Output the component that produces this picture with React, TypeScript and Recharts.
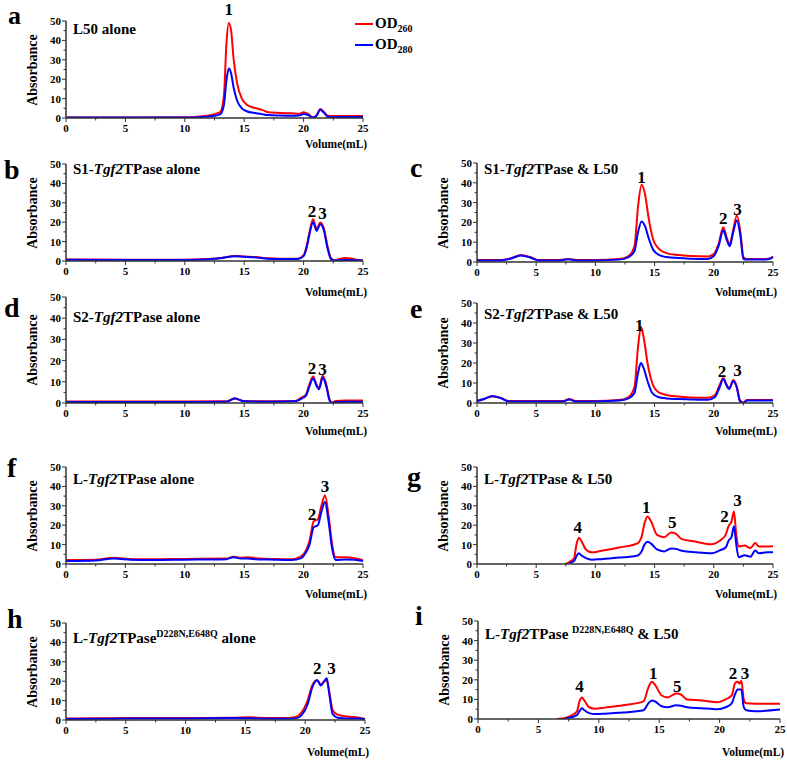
import React from "react";
import { LineChart, Line, XAxis, YAxis, ReferenceDot } from "recharts";

const SERIF = '"Liberation Serif", "Times New Roman", serif';
const RED = "#ff0000";
const BLUE = "#0000ff";
const AXIS = "#333";

const xTicks = [0, 2.5, 5, 7.5, 10, 12.5, 15, 17.5, 20, 22.5, 25];
const yTicks = [0, 5, 10, 15, 20, 25, 30, 35, 40, 45, 50];

// a: L50 alone
const volA = [0, 5, 10, 11, 12, 12.5, 13, 13.3, 13.5, 13.7, 13.9, 14.1, 14.4, 14.8, 15.2, 16, 16.5, 17, 18, 19, 19.6, 20, 20.4, 20.8, 21.1, 21.4, 21.7, 22, 22.5, 25];
const a260 = [0.3, 0.3, 0.4, 0.7, 1.3, 2, 3.2, 12, 38, 49, 45, 31, 18, 10, 7, 5, 4.2, 3, 2.6, 2.4, 2.2, 2.9, 2, 0.3, 1.5, 4.6, 3.2, 1.3, 1, 1];
const a280 = [0.2, 0.2, 0.2, 0.4, 0.8, 1.2, 2, 7, 19, 25.5, 23, 16, 9, 5, 3.5, 2.5, 2, 1.5, 1.3, 1.2, 1.3, 2, 1.4, 0.2, 1.3, 4.2, 2.8, 0.8, 0.5, 0.5];
const peaksA = [{ label: "1", vol: 13.7, abs: 56 }];

// b: S1-Tgf2TPase alone
const volB = [0, 5, 10, 12, 13, 14.2, 15, 16, 17, 18, 19.5, 20, 20.3, 20.5, 20.8, 21.1, 21.4, 21.7, 22, 22.3, 22.6, 23, 23.5, 24, 24.5, 25];
const b260 = [0.8, 0.6, 0.6, 1, 1.5, 2.6, 2.3, 2, 1.4, 1.2, 1.2, 3, 9, 15, 21.5, 16.5, 19.8, 17, 8, 1.5, 0.4, 1, 1.5, 1.3, 0.6, 0.3];
const b280 = [0.6, 0.5, 0.5, 0.9, 1.4, 2.5, 2.2, 1.8, 1.2, 1, 1, 2.5, 8, 14, 20, 15.5, 19, 16, 7, 1, 0.2, 0.4, 0.5, 0.5, 0.4, 0.2];
const peaksB = [{ label: "2", vol: 20.7, abs: 26 }, { label: "3", vol: 21.6, abs: 25 }];

// c: S1-Tgf2TPase & L50
const volC = [0, 2, 2.8, 3.7, 4.5, 5.2, 7, 7.7, 8.4, 10, 12, 12.8, 13.3, 13.6, 13.9, 14.2, 14.5, 14.9, 15.4, 16, 17, 18, 19.5, 20, 20.4, 20.8, 21.1, 21.35, 21.6, 21.95, 22.25, 22.5, 22.8, 24, 24.7, 25];
const c260 = [1, 1, 1.8, 3.5, 2.5, 1, 1, 1.5, 1, 1, 1.5, 3, 8, 28, 39, 34, 22, 11, 6.5, 4.5, 3.5, 3, 2.8, 4, 9, 17.5, 12, 9, 15, 23.5, 15, 2.5, 1.5, 1.5, 1.8, 2.8];
const c280 = [0.8, 0.8, 1.6, 3.3, 2.3, 0.8, 0.8, 1.4, 0.8, 0.8, 1.2, 2.5, 5.5, 15, 20.5, 18, 12, 6, 3.5, 2.5, 2, 1.7, 1.5, 3, 8, 16, 11, 8, 14, 21, 13, 1.5, 1.2, 1.2, 1.5, 2.5];
const peaksC = [{ label: "1", vol: 13.9, abs: 43 }, { label: "2", vol: 20.8, abs: 22 }, { label: "3", vol: 22.0, abs: 27 }];

// d: S2-Tgf2TPase alone
const volD = [0, 5, 10, 13.5, 14.2, 15, 17, 19.3, 19.8, 20.2, 20.5, 20.8, 21.1, 21.3, 21.6, 21.9, 22.2, 22.4, 22.7, 23.5, 25];
const d260 = [0.7, 0.7, 0.7, 0.8, 2, 0.9, 0.8, 1, 2.5, 4, 9, 12.5, 8.5, 7, 12.8, 9, 1.5, 0.2, 1, 1.2, 1.2];
const d280 = [0.5, 0.5, 0.5, 0.6, 2.2, 0.8, 0.6, 0.8, 2, 3.5, 8, 11.5, 8, 6.5, 12, 8, 1, 0, 0.5, 0.6, 0.6];
const peaksD = [{ label: "2", vol: 20.7, abs: 16.5 }, { label: "3", vol: 21.6, abs: 16 }];

// e: S2-Tgf2TPase & L50
const volE = [0, 0.6, 1.3, 2, 2.7, 5, 7.3, 7.8, 8.3, 10, 12, 12.8, 13.3, 13.6, 13.85, 14.1, 14.4, 14.8, 15.3, 16, 17, 18, 19.5, 20.1, 20.5, 20.8, 21.1, 21.3, 21.65, 21.95, 22.2, 22.5, 22.8, 25];
const e260 = [1, 2, 3.3, 2.5, 1, 1, 1, 2, 1, 1, 1.5, 3, 8, 28, 38, 32, 20, 10, 5.5, 4, 3.2, 2.8, 2.6, 4, 9, 12.5, 9, 7.5, 11.5, 8, 1.5, 0.3, 1.5, 1.5];
const e280 = [1, 2, 3.5, 2.5, 0.8, 0.8, 0.8, 1.8, 0.8, 0.8, 1.2, 2.3, 5, 15, 20, 17, 11, 5, 3, 2.3, 2, 1.8, 1.6, 3, 8, 12, 8.5, 7, 11, 7.5, 1, 0, 1.2, 1.2];
const peaksE = [{ label: "1", vol: 13.7, abs: 39 }, { label: "2", vol: 20.7, abs: 16 }, { label: "3", vol: 22.0, abs: 16.5 }];

// f: L-Tgf2TPase alone
const volF = [0, 2.5, 4, 5.5, 7, 10, 13.5, 14.1, 14.7, 15.3, 16, 17.5, 19, 19.8, 20.2, 20.5, 20.85, 21.2, 21.5, 21.8, 22.1, 22.4, 22.7, 23.5, 24.3, 25];
const f260 = [2, 2.2, 3.2, 2.5, 2.4, 2.6, 2.8, 3.8, 3.2, 3.5, 3, 2.6, 2.5, 4, 7, 12, 22, 23, 30, 35.5, 25, 10, 3.5, 3.5, 3, 2];
const f280 = [1.5, 1.8, 2.8, 2.2, 2, 2.2, 2.5, 3.5, 2.8, 2.8, 2.5, 2.2, 2, 3, 6, 10, 19, 20, 27, 32, 22, 8, 2, 2.3, 2.2, 1.5];
const peaksF = [{ label: "2", vol: 20.7, abs: 26 }, { label: "3", vol: 21.8, abs: 40 }];

// g: L-Tgf2TPase & L50
const volG = [7.4, 7.8, 8.2, 8.4, 8.6, 8.8, 9.2, 9.7, 10.5, 12, 13.5, 13.9, 14.15, 14.4, 14.7, 15.2, 15.8, 16.4, 16.8, 17.3, 18.5, 19.8, 20.5, 21, 21.25, 21.5, 21.7, 21.9, 22.1, 22.6, 23.1, 23.5, 23.8, 24.5, 25];
const g260 = [0, 1, 3, 10, 13.5, 12, 7.5, 6, 6.8, 8.5, 10.5, 14, 21, 24.5, 22, 15, 13.8, 16.2, 15.5, 12.8, 11.5, 10.2, 12, 15, 19.5, 22, 27, 15, 9, 9.5, 8.2, 10.8, 9, 9, 9.2];
const g280 = [null, 0.5, 1.5, 4, 5.5, 4.5, 3, 2.2, 2.5, 3.3, 4.3, 6.5, 10, 11.5, 10.5, 7.5, 6.5, 8, 7.8, 6.8, 6, 5.5, 7, 8.5, 12, 14, 19.5, 10, 3.5, 4.5, 3.8, 7, 5.5, 6, 6];
const peaksG = [{ label: "4", vol: 8.5, abs: 19 }, { label: "1", vol: 14.3, abs: 29.4 }, { label: "5", vol: 16.5, abs: 21.6 }, { label: "2", vol: 20.9, abs: 24.7 }, { label: "3", vol: 22.0, abs: 33 }];

// h: L-Tgf2TPase D228N,E648Q alone
const volH = [0, 3, 5, 10, 14, 15.3, 17, 18.5, 19.2, 19.7, 20.2, 20.6, 21, 21.3, 21.6, 21.8, 22, 22.3, 22.7, 23.5, 24.5, 25];
const h260 = [0.8, 0.9, 1, 1, 1.1, 1.4, 1, 1, 1.5, 4, 10, 18, 20.5, 18.5, 20, 20.5, 15, 5, 2.8, 1.8, 1.2, 0.5];
const h280 = [0.5, 0.6, 0.8, 0.8, 1, 0.9, 0.7, 0.6, 0.8, 2.5, 8, 17, 20.5, 17.8, 20, 21.5, 14, 3, 1.2, 0.8, 0.8, 0.4];
const peaksH = [{ label: "2", vol: 21.0, abs: 27 }, { label: "3", vol: 22.2, abs: 27 }];

// i: L-Tgf2TPase D228N,E648Q & L50
const volI = [6.5, 7.3, 7.8, 8.2, 8.4, 8.6, 8.8, 9.2, 9.7, 10.5, 12, 13.7, 14.1, 14.4, 14.7, 15.2, 15.7, 16.4, 16.8, 17.3, 18.5, 19.8, 20.5, 21, 21.3, 21.5, 21.65, 21.8, 22, 22.2, 23, 25];
const i260 = [0, 0.7, 2, 4, 9, 11, 9.5, 6, 5.2, 5.8, 7, 9, 16, 19, 17, 12, 11, 13, 12.5, 10, 9.5, 8.5, 10, 12, 18.5, 19, 18, 19.5, 10, 8, 7.8, 7.8];
const i280 = [null, 0.4, 1, 2, 4, 5.5, 4.5, 3, 2.5, 2.7, 3.3, 4.5, 8, 9.5, 8.8, 6.5, 6, 7, 6.8, 6, 5.5, 5, 6, 8, 13, 15, 15, 15, 6, 4.5, 4, 4.8];
const peaksI = [{ label: "4", vol: 8.4, abs: 17 }, { label: "1", vol: 14.5, abs: 23.7 }, { label: "5", vol: 16.5, abs: 17 }, { label: "2", vol: 21.1, abs: 23.7 }, { label: "3", vol: 22.1, abs: 23.7 }];

const rows = (vol: number[], r: (number | null)[], b: (number | null)[]) =>
  vol.map((v, i) => ({ v, r: r[i], b: b[i] }));

const ML = 40;
const MT = 22;
const MR = 15;
const MB = 25;

function XTick({ x, y, payload }: any) {
  const major = payload.value % 5 === 0;
  return (
    <g>
      <line x1={x} y1={y} x2={x} y2={y + (major ? 4 : 2.5)} stroke={AXIS} strokeWidth={1} />
      {major && (
        <text x={x} y={y + 14} textAnchor="middle" fontFamily={SERIF} fontWeight="bold" fontSize={11} fill="#000">
          {payload.value}
        </text>
      )}
    </g>
  );
}

function YTick({ x, y, payload }: any) {
  const major = payload.value % 10 === 0;
  return (
    <g>
      <line x1={x} y1={y} x2={x - (major ? 4 : 2.5)} y2={y} stroke={AXIS} strokeWidth={1} />
      {major && (
        <text x={x - 5} y={y + 4} textAnchor="end" fontFamily={SERIF} fontWeight="bold" fontSize={11} fill="#000">
          {payload.value}
        </text>
      )}
    </g>
  );
}

interface Peak {
  label: string;
  vol: number;
  abs: number;
}

function Panel({ box, data, peaks }: { box: number[]; data: any[]; peaks: Peak[] }) {
  const [px, py, pw, ph] = box;
  return (
    <div style={{ position: "absolute", left: px - ML, top: py - MT }}>
      <LineChart width={pw + ML + MR} height={ph + MT + MB} data={data} margin={{ top: MT, right: MR, left: 0, bottom: 0 }}>
        <XAxis
          dataKey="v"
          type="number"
          domain={[0, 25]}
          ticks={xTicks}
          interval={0}
          height={MB}
          tickSize={0}
          tickMargin={0}
          tickLine={false}
          axisLine={{ stroke: AXIS, strokeWidth: 1.5 }}
          tick={<XTick />}
        />
        <YAxis
          type="number"
          domain={[0, 50]}
          ticks={yTicks}
          interval={0}
          width={ML}
          tickSize={0}
          tickMargin={0}
          tickLine={false}
          axisLine={{ stroke: AXIS, strokeWidth: 1.5 }}
          tick={<YTick />}
          allowDataOverflow
        />
        <Line dataKey="r" type="monotone" stroke={RED} strokeWidth={2} dot={false} isAnimationActive={false} />
        <Line dataKey="b" type="monotone" stroke={BLUE} strokeWidth={2} dot={false} isAnimationActive={false} />
        {peaks.map((p, i) => (
          <ReferenceDot
            key={i}
            x={p.vol}
            y={p.abs}
            r={2}
            fill="none"
            stroke="none"
            ifOverflow="visible"
            label={{ value: p.label, position: "center", fill: "#000", fontSize: 17, fontWeight: "bold", fontFamily: SERIF }}
          />
        ))}
      </LineChart>
    </div>
  );
}

const tgf = <i>Tgf2</i>;
const mut = <sup style={{ fontSize: 10 }}>D228N,E648Q</sup>;

const panels = [
  { id: "a", box: [66, 21, 297, 97], data: rows(volA, a260, a280), peaks: peaksA, title: <>L50 alone</>, letter: [8, 24], titleTop: 22 },
  { id: "b", box: [66, 164, 297, 97], data: rows(volB, b260, b280), peaks: peaksB, title: <>S1-{tgf}TPase alone</>, letter: [4, 179], titleTop: 162 },
  { id: "c", box: [477, 163, 296, 99], data: rows(volC, c260, c280), peaks: peaksC, title: <>S1-{tgf}TPase &amp; L50</>, letter: [410, 177], titleTop: 162 },
  { id: "d", box: [66, 297, 297, 106], data: rows(volD, d260, d280), peaks: peaksD, title: <>S2-{tgf}TPase alone</>, letter: [4, 317], titleTop: 310 },
  { id: "e", box: [477, 303, 296, 100], data: rows(volE, e260, e280), peaks: peaksE, title: <>S2-{tgf}TPase &amp; L50</>, letter: [410, 318], titleTop: 307 },
  { id: "f", box: [66, 467, 297, 97], data: rows(volF, f260, f280), peaks: peaksF, title: <>L-{tgf}TPase alone</>, letter: [7, 477], titleTop: 472 },
  { id: "g", box: [477, 467, 296, 97], data: rows(volG, g260, g280), peaks: peaksG, title: <>L-{tgf}TPase &amp; L50</>, letter: [407, 486], titleTop: 472 },
  { id: "h", box: [66, 623, 299, 97], data: rows(volH, h260, h280), peaks: peaksH, title: <>L-{tgf}TPase{mut} alone</>, letter: [7, 628], titleTop: 629 },
  { id: "i", box: [478, 621, 302, 98], data: rows(volI, i260, i280), peaks: peaksI, title: <>L-{tgf}TPase {mut} &amp; L50</>, letter: [415, 625], titleTop: 625 },
];

const volumeLabelY = [145, 293, 293, 432, 432, 595, 595, 753, 753];

const bold: React.CSSProperties = { position: "absolute", fontFamily: SERIF, fontWeight: "bold", color: "#000", whiteSpace: "nowrap", lineHeight: 1 };

export default function App() {
  return (
    <div style={{ position: "absolute", left: 0, top: 0, width: 787, height: 761, background: "#fff", overflow: "hidden" }}>
      {panels.map((p, idx) => {
        const [px, py, pw, ph] = p.box;
        return (
          <React.Fragment key={p.id}>
            <Panel box={p.box} data={p.data} peaks={p.peaks} />
            <div style={{ ...bold, left: px + 7, top: p.titleTop, fontSize: 15 }}>{p.title}</div>
            <div
              style={{
                ...bold,
                left: px - 33,
                top: py + ph / 2,
                fontSize: 14,
                transform: "translate(-50%, -50%) rotate(-90deg)",
              }}
            >
              Absorbance
            </div>
            <div style={{ ...bold, left: px + pw - 58, top: volumeLabelY[idx] - 6, fontSize: 11.5 }}>Volume(mL)</div>
          </React.Fragment>
        );
      })}
      {/* panel letters */}
      <svg width={787} height={761} style={{ position: "absolute", left: 0, top: 0, pointerEvents: "none" }}>
        {panels.map((p) => (
          <text key={p.id} x={p.letter[0]} y={p.letter[1]} fontFamily={SERIF} fontWeight="bold" fontSize={p.id === "a" ? 26 : 28} fill="#000">
            {p.id}
          </text>
        ))}
      </svg>
      {/* legend */}
      <div style={{ position: "absolute", left: 355, top: 23, width: 18, height: 2, background: RED }} />
      <div style={{ ...bold, left: 375, top: 16, fontSize: 15 }}>
        OD<sub style={{ fontSize: 10 }}>260</sub>
      </div>
      <div style={{ position: "absolute", left: 355, top: 44, width: 18, height: 2, background: BLUE }} />
      <div style={{ ...bold, left: 375, top: 37, fontSize: 15 }}>
        OD<sub style={{ fontSize: 10 }}>280</sub>
      </div>
    </div>
  );
}
